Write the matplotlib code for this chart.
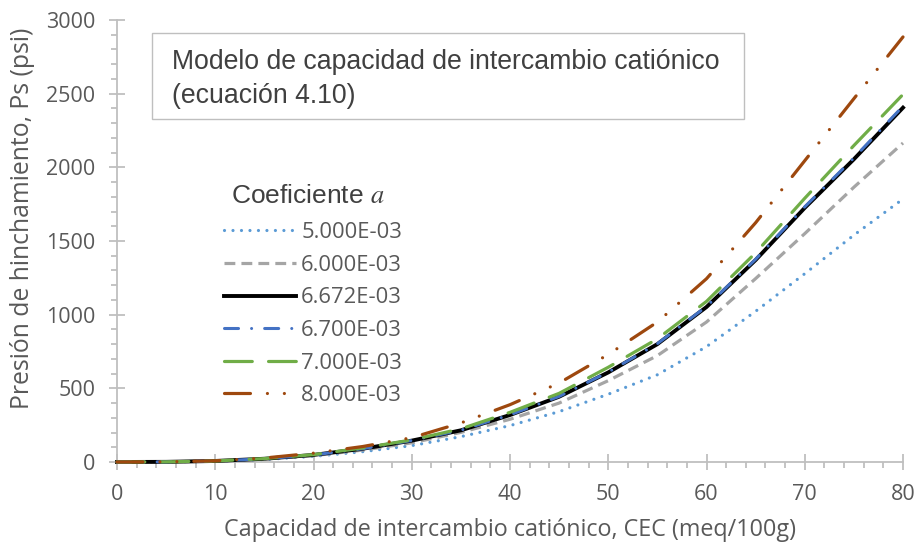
import numpy as np
import matplotlib
matplotlib.use('Agg')
import matplotlib.pyplot as plt
from matplotlib.patches import Rectangle
from matplotlib.ticker import MultipleLocator

# CEC (meq/100g)
cec = [0, 5, 10, 15, 20, 25, 30, 35, 40, 45, 50, 55, 60, 65, 70, 75, 80]

# swelling pressure Ps (psi) for each coefficient a
ps_5000 = [0, 1, 5, 17, 38, 70, 111, 172, 247, 342, 460, 592, 783, 1023, 1278, 1540, 1785]
ps_6000 = [0, 1, 6, 20, 43, 81, 130, 201, 290, 400, 552, 722, 950, 1245, 1550, 1865, 2165]
ps_6672 = [0, 1, 7, 22, 48, 90, 145, 215, 319, 443, 608, 800, 1052, 1371, 1725, 2055, 2405]
ps_6700 = [0, 1, 7, 22, 48, 90, 146, 216, 320, 445, 610, 803, 1056, 1376, 1732, 2064, 2415]
ps_7000 = [0, 1, 7, 23, 50, 95, 150, 225, 337, 466, 643, 836, 1090, 1420, 1790, 2148, 2495]
ps_8000 = [0, 1, 8, 27, 60, 105, 165, 265, 389, 536, 730, 950, 1244, 1624, 2045, 2466, 2885]

labels = ['5.000E-03', '6.000E-03', '6.672E-03', '6.700E-03', '7.000E-03', '8.000E-03']
series = [ps_5000, ps_6000, ps_6672, ps_6700, ps_7000, ps_8000]

plt.rcParams['lines.scale_dashes'] = False
plt.rcParams['mathtext.fontset'] = 'stix'

styles = [
    dict(color='#5B9BD5', lw=2.3, ls=(0, (0.01, 6.1)), dash_capstyle='round'),
    dict(color='#A5A5A5', lw=2.3, ls=(0, (7.8, 4.4)), dash_capstyle='butt'),
    dict(color='#000000', lw=2.8, ls='-'),
    dict(color='#4472C4', lw=2.2, ls=(0, (10.1, 9.4, 0.01, 9.4)), dash_capstyle='round'),
    dict(color='#70AD47', lw=2.3, ls=(0, (20.0, 11.7)), dash_capstyle='round'),
    dict(color='#9E480E', lw=2.3, ls=(0, (18.7, 12.2, 0.01, 12.2, 0.01, 12.2)), dash_capstyle='round'),
]

W, H = 919, 545
fig = plt.figure(figsize=(W / 100, H / 100), dpi=100)
ax = fig.add_axes([117 / W, 83 / H, 786 / W, 442 / H])

handles = []
for ys, lab, st in zip(series, labels, styles):
    ln, = ax.plot(cec, ys, label=lab, clip_on=False, zorder=3, **st)
    handles.append(ln)

ax.set_xlim(0, 80)
ax.set_ylim(0, 3000)
ax.xaxis.set_major_locator(MultipleLocator(10))
ax.xaxis.set_minor_locator(MultipleLocator(2))
ax.yaxis.set_major_locator(MultipleLocator(500))
ax.yaxis.set_minor_locator(MultipleLocator(100))

axis_col = '#BFBFBF'
text_col = '#595959'
for s in ['top', 'right']:
    ax.spines[s].set_visible(False)
for s in ['left', 'bottom']:
    ax.spines[s].set_color(axis_col)
    ax.spines[s].set_linewidth(1.3)

ax.tick_params(which='major', direction='inout', length=11, width=1.3, color=axis_col,
               labelcolor=text_col, labelsize=15.5)
ax.tick_params(axis='y', which='major', pad=10)
ax.tick_params(axis='x', which='major', pad=10)
ax.tick_params(which='minor', direction='out', length=4.5, width=1.3, color=axis_col)
for t in ax.get_xticklabels() + ax.get_yticklabels():
    t.set_fontfamily('Open Sans')

fig.text(510 / W, 1 - 530 / H, 'Capacidad de intercambio catiónico, CEC (meq/100g)',
         ha='center', va='center', fontsize=16.8, color=text_col, family='Open Sans')
fig.text(23 / W, 1 - 218 / H, 'Presión de hinchamiento, Ps (psi)', rotation=90,
         ha='center', va='center', fontsize=17.8, color=text_col, family='Open Sans')

# title box
fig.patches.append(Rectangle((152 / W, 1 - 119 / H), 592 / W, 86 / H, transform=fig.transFigure,
                             fill=False, edgecolor='#BFBFBF', lw=1.0))
fig.text(172 / W, 1 - 69 / H, 'Modelo de capacidad de intercambio catiónico',
         ha='left', va='baseline', fontsize=19.2, color='#404040', family='Liberation Sans')
fig.text(172 / W, 1 - 103 / H, '(ecuación 4.10)',
         ha='left', va='baseline', fontsize=19.2, color='#404040', family='Liberation Sans')

# legend
fig.text(308 / W, 1 - 203 / H, 'Coeficiente $a$', ha='center', va='baseline',
         fontsize=19, color='#404040', family='Liberation Sans')
leg = ax.legend(handles=handles, loc='upper left', bbox_to_anchor=(224 / W, 1 - 222 / H),
                bbox_transform=fig.transFigure, frameon=False, handlelength=3.29,
                handletextpad=0.23, labelspacing=0.53, borderpad=0, borderaxespad=0,
                prop={'family': 'Open Sans', 'size': 15.8})
for t in leg.get_texts():
    t.set_color(text_col)

fig.savefig('out.png', dpi=100)
